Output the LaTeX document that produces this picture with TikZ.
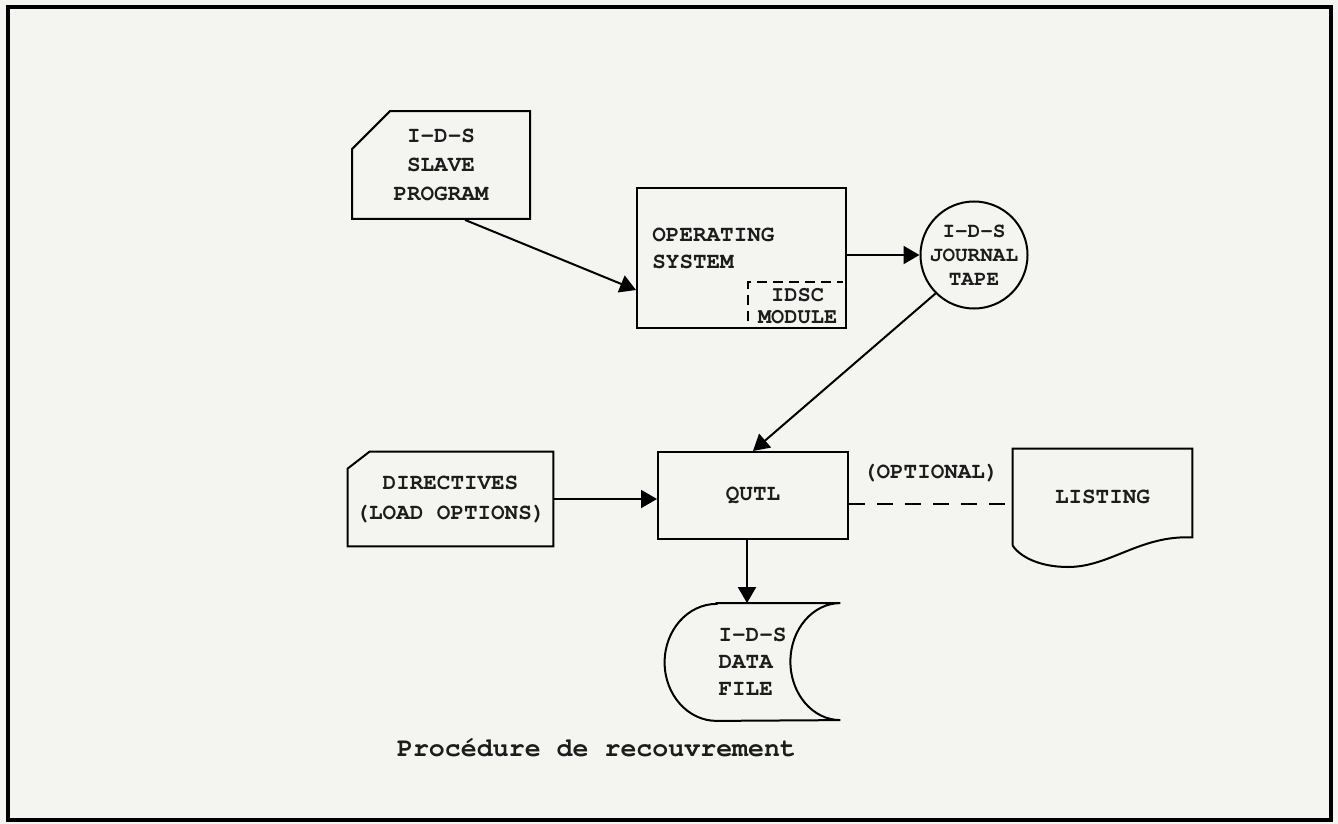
\documentclass[tikz,border=0pt]{standalone}
\usepackage{fontspec}
\usetikzlibrary{arrows.meta,shapes.misc}
\newfontfamily\typer{texgyrecursor-bold.otf}
\definecolor{paper}{RGB}{244,244,240}
\definecolor{ink}{RGB}{28,28,28}

\begin{document}
\begin{tikzpicture}[x=0.5pt,y=-0.5pt,
    every node/.style={font=\typer\fontsize{11.3}{13.5}\selectfont, align=center, text=ink},
    outline/.style={line width=1pt},
    card/.style={outline, draw, chamfered rectangle, chamfered rectangle corners=north west,
      chamfered rectangle xsep=10pt, chamfered rectangle ysep=9pt, inner sep=0pt},
    box/.style={outline, draw, rectangle, inner sep=0pt},
    flow/.style={outline, -{Triangle[length=8pt,width=9pt]}},
  ]
  \fill[paper] (0,0) rectangle (1338,824);
  \draw[line width=2pt] (8,7) rectangle (1331,820);

  \node[card, minimum width=89pt, minimum height=47pt,
    font=\typer\fontsize{11.3}{14.5}\selectfont] (slave) at (441,165) {I-D-S\\SLAVE\\PROGRAM};
  \node[box, minimum width=104.5pt, minimum height=70pt] (os) at (741.5,258) {};
  \node[anchor=west, align=left, inner sep=0pt] (ostext) at (652,248) {OPERATING\\SYSTEM};
  \node[anchor=south east, minimum width=49pt, minimum height=23pt, inner sep=0pt,
    font=\typer\fontsize{11}{11}\selectfont] (idsc) at (os.south east) {IDSC\\MODULE};
  \node[outline, draw, circle, minimum size=48pt, inner sep=0pt,
    font=\typer\fontsize{10.5}{12}\selectfont] (tape) at (974,255) {I-D-S\\JOURNAL\\TAPE};

  \node[minimum width=102.5pt, minimum height=47pt, inner sep=0pt,
    font=\typer\fontsize{11.3}{15}\selectfont] (dir) at (450.5,499) {DIRECTIVES\\(LOAD OPTIONS)};
  \node[box, minimum width=95pt, minimum height=43.5pt] (qutl) at (753,495.5) {QUTL};
  \node[minimum width=87.5pt, minimum height=58.5pt, inner sep=0pt, align=left] (data)
    at (752.5,662) {I-D-S\\DATA\\FILE};
  \node[minimum width=89.5pt, minimum height=48pt, inner sep=0pt] (listing) at (1102.5,497) {LISTING};

  \node[anchor=west, font=\typer\fontsize{13.3}{15}\selectfont] (caption) at (390,748)
    {Procédure de recouvrement};

  % directives card, corner cut by hand
  \draw[outline] (dir.south west) -- ([yshift=-8.5pt]dir.north west) -- ([xshift=11pt]dir.north west)
    -- (dir.north east) -- (dir.south east) -- cycle;

  % IDSC module corner
  \draw[outline, dashed, dash pattern=on 5pt off 3pt]
    ([yshift=4pt]idsc.south west) -- (idsc.north west) -- ([xshift=-2pt]idsc.north east);

  % data file
  \draw[outline] ([xshift=26pt]data.north west) -- (data.north east)
    arc[start angle=90, end angle=270, x radius=25pt, y radius=29.25pt]
    -- ([xshift=26pt]data.south west)
    arc[start angle=270, end angle=90, x radius=26pt, y radius=29.25pt] -- cycle;

  % listing
  \draw[outline] (listing.south west) -- (listing.north west) -- (listing.north east)
    -- ([yshift=4pt]listing.south east)
    .. controls (1140,535) and (1110,567) .. (1068,567)
    .. controls (1040,567) and (1020,557) .. (listing.south west);

  \draw[flow] ([xshift=12pt]slave.south) -- ([yshift=-16pt]os.west);
  \draw[flow] (os.east |- tape.west) -- (tape.west);
  \draw[flow] (tape.225) -- (qutl.north);
  \draw[flow] (dir.east) -- (dir.east -| qutl.west);
  \draw[flow] ([xshift=-3pt]qutl.south) -- ([xshift=-3pt]qutl.south |- data.north);
  \draw[outline, dash pattern=on 8pt off 6pt] ([yshift=-4pt]qutl.east)
    -- ([yshift=-4pt]qutl.east -| listing.west)
    node[midway, above=7pt] (opt) {(OPTIONAL)};
\end{tikzpicture}
\end{document}
